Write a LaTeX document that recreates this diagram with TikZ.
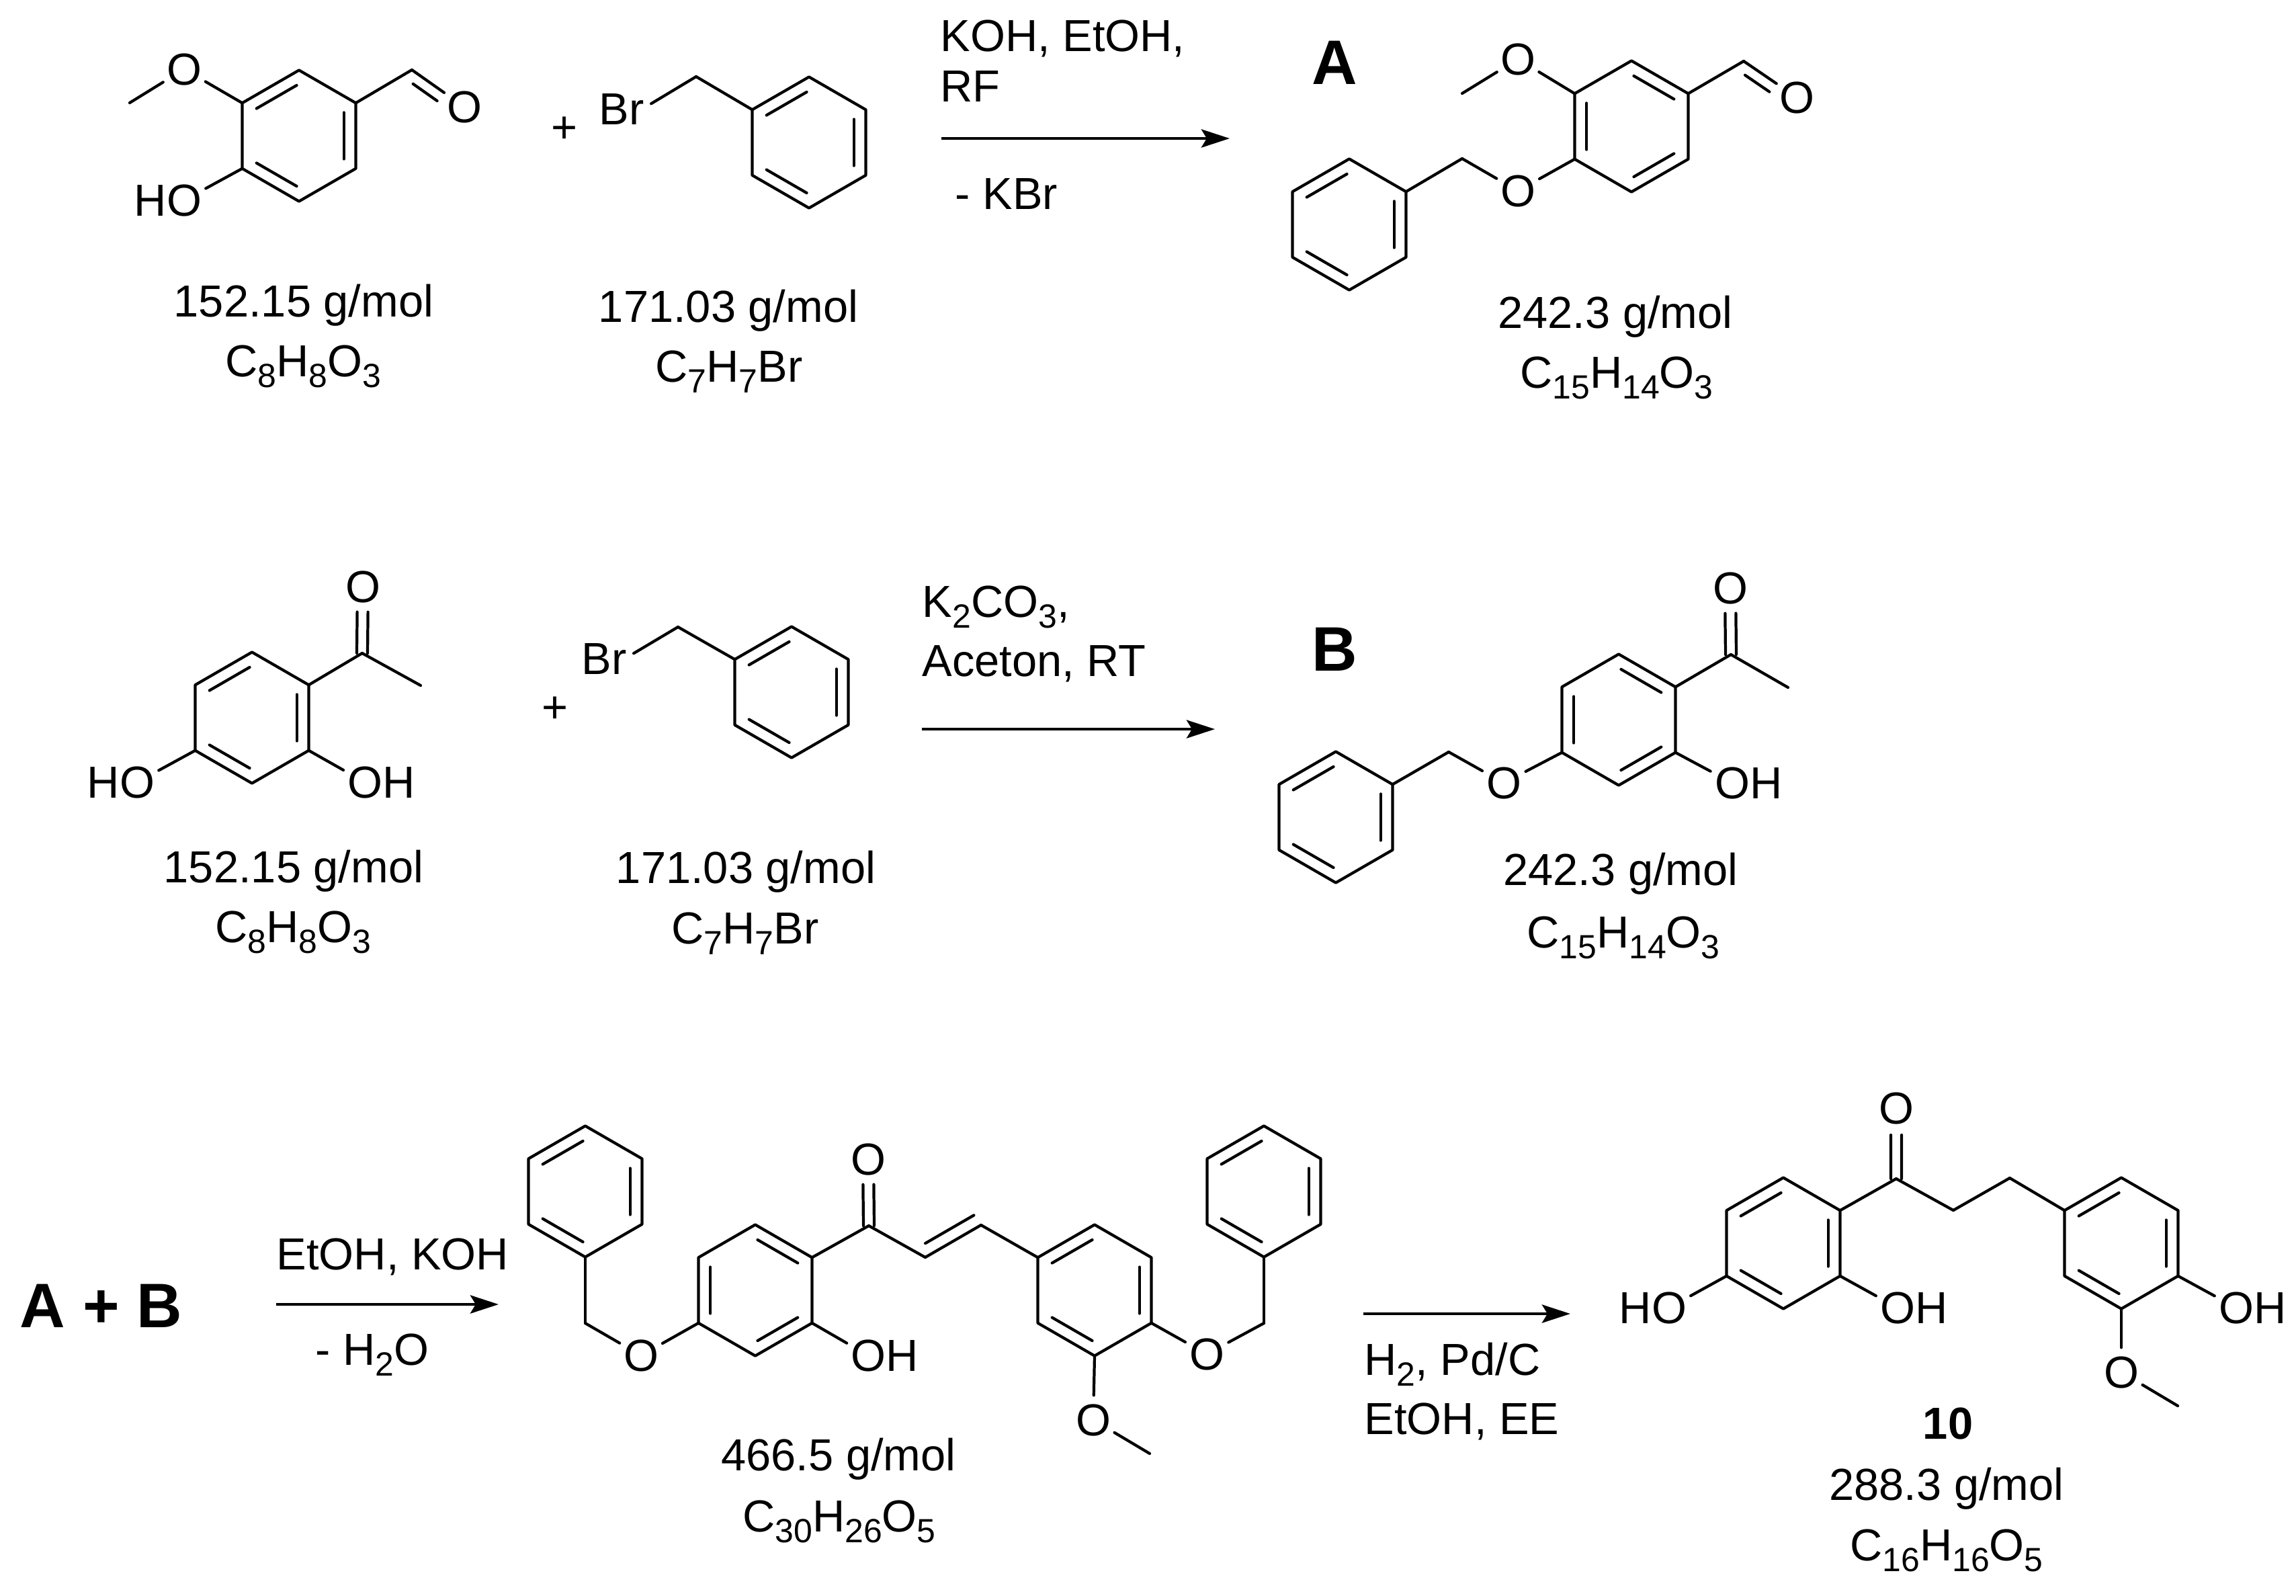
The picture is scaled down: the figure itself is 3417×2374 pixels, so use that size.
\documentclass[tikz,border=0pt]{standalone}
\usepackage{fontspec}
\setmainfont{Liberation Sans}
\usetikzlibrary{calc,arrows.meta}

\begin{document}
\begin{tikzpicture}[x=0.01cm,y=-0.01cm]

\def\rad{0.975cm}
\def\sbs#1{\raisebox{-.24em}{\fontsize{14.2}{15}\selectfont #1}}

\tikzset{bond/.style = {line width=1.2pt, line cap=round, line join=round}}
\tikzset{inbond/.style = {bond, shorten >=.04cm, shorten <=.04cm}}
\tikzset{atom/.style = {circle, inner sep=0pt, minimum size=.72cm, font=\fontsize{19}{22}\selectfont}}
\tikzset{txt/.style = {inner sep=0pt, anchor=base, font=\fontsize{19}{22}\selectfont}}
\tikzset{ltxt/.style = {txt, anchor=base west}}
\tikzset{halo/.style = {inner sep=.1cm, font=\fontsize{19}{22}\selectfont}}
\tikzset{bigtxt/.style = {inner sep=0pt, anchor=base, font=\fontsize{26.6}{30}\selectfont\bfseries}}
\tikzset{rxn/.style = {line width=1.4pt, -{Stealth[length=.42cm,width=.27cm,inset=.08cm]}}}

% name, centre, double bonds
\def\benzring#1#2#3{
  \coordinate (#1) at (#2);
  \foreach \i/\ang in {1/90,2/30,3/-30,4/-90,5/-150,6/150} {
    \coordinate (#1\i) at ($(#1)+(\ang:\rad)$);
  }
  \draw[bond] (#11) -- (#12) -- (#13) -- (#14) -- (#15) -- (#16) -- cycle;
  \foreach \p/\q in {#3} {
    \draw[inbond] ($(#1\p)!.21!(#1)$) -- ($(#1\q)!.21!(#1)$);
  }
}
% from, to, start, end, offset
\def\sidebond#1#2#3#4#5{
  \draw[bond] ($(#1)!#3!(#2)!#5!90:(#2)$) -- ($(#1)!#4!(#2)!#5!90:(#2)$);
}
\def\twobond#1#2{
  \sidebond{#1}{#2}{0}{.62}{.08cm}
  \sidebond{#1}{#2}{0}{.62}{-.08cm}
}

\useasboundingbox (0,0) rectangle (3417,2374);

% vanillin
\benzring{Ra}{445,202}{6/1,2/3,4/5}
\node[atom] (Oa1) at (274,103) {O};
\node[atom] (Oa2) at (274,298) {\llap{H}O};
\node[atom] (Oa3) at (691,159) {O};
\coordinate (Ma) at (193,153);
\coordinate (Ca) at (613,104);
\draw[bond] (Ra6) -- (Oa1);
\draw[bond] (Oa1) -- (Ma);
\draw[bond] (Ra5) -- (Oa2);
\draw[bond] (Ra2) -- (Ca);
\draw[bond] (Ca) -- (Oa3);
\sidebond{Ca}{Oa3}{.14}{.6}{-.16cm}
\node[txt] (Wa) at (452,471) {152.15 g/mol};
\node[txt] (Fa) at (451,560) {C\sbs{8}H\sbs{8}O\sbs{3}};

\node[txt] (Pa) at (840,212) {+};

% benzyl bromide
\benzring{Rb}{1204,212}{6/1,2/3,4/5}
\coordinate (Cb) at (1036,114);
\node[halo] (Bra) at (925,162) {Br};
\draw[bond] (Rb6) -- (Cb);
\draw[bond] (Cb) -- (Bra.10);
\node[txt] (Wb) at (1084,479) {171.03 g/mol};
\node[txt] (Fb) at (1085,568) {C\sbs{7}H\sbs{7}Br};

% reaction A
\node[ltxt] (Ta1) at (1399,76) {KOH, EtOH,};
\node[ltxt] (Ta2) at (1399,151) {RF};
\coordinate (Aa1) at (1401,206);
\coordinate (Aa2) at (1830,206);
\draw[rxn] (Aa1) -- (Aa2);
\node[ltxt] (Ta3) at (1421,311) {- KBr};
\node[bigtxt] (La) at (1986,125) {A};

% product A
\benzring{Rc}{2428,188}{1/2,3/4,5/6}
\benzring{Rd}{2008,334}{6/1,2/3,4/5}
\node[atom] (Oc1) at (2259,88) {O};
\node[atom] (Oc2) at (2259,284) {O};
\node[atom] (Oc3) at (2674,145) {O};
\coordinate (Mc) at (2176,139);
\coordinate (Cc) at (2595,91);
\coordinate (Bc) at (2176,236);
\draw[bond] (Rc6) -- (Oc1);
\draw[bond] (Oc1) -- (Mc);
\draw[bond] (Rc5) -- (Oc2);
\draw[bond] (Oc2) -- (Bc);
\draw[bond] (Bc) -- (Rd2);
\draw[bond] (Rc2) -- (Cc);
\draw[bond] (Cc) -- (Oc3);
\sidebond{Cc}{Oc3}{.14}{.6}{-.16cm}
\node[txt] (Wc) at (2404,488) {242.3 g/mol};
\node[txt] (Fc) at (2406,577) {C\sbs{15}H\sbs{14}O\sbs{3}};

% resacetophenone
\benzring{Re}{375,1068}{6/1,2/3,4/5}
\node[atom] (Oe1) at (204,1164) {\llap{H}O};
\node[atom] (Oe2) at (543,1164) {O\rlap{H}};
\node[atom] (Oe3) at (540,873) {O};
\coordinate (Ce) at (539,972);
\coordinate (Me) at (626,1020);
\draw[bond] (Re5) -- (Oe1);
\draw[bond] (Re3) -- (Oe2);
\draw[bond] (Re2) -- (Ce);
\draw[bond] (Ce) -- (Me);
\twobond{Ce}{Oe3}
\node[txt] (We) at (437,1313) {152.15 g/mol};
\node[txt] (Fe) at (436,1402) {C\sbs{8}H\sbs{8}O\sbs{3}};

\node[txt] (Pb) at (826,1075) {+};

% benzyl bromide again
\benzring{Rf}{1178,1030}{6/1,2/3,4/5}
\coordinate (Cf) at (1009,933);
\node[halo] (Brf) at (899,980) {Br};
\draw[bond] (Rf6) -- (Cf);
\draw[bond] (Cf) -- (Brf.10);
\node[txt] (Wf) at (1110,1314) {171.03 g/mol};
\node[txt] (Ff) at (1109,1404) {C\sbs{7}H\sbs{7}Br};

% reaction B
\node[ltxt] (Tb1) at (1372,918) {K\sbs{2}CO\sbs{3},};
\node[ltxt] (Tb2) at (1372,1006) {Aceton, RT};
\coordinate (Ab1) at (1372,1085);
\coordinate (Ab2) at (1808,1085);
\draw[rxn] (Ab1) -- (Ab2);
\node[bigtxt] (Lb) at (1986,998) {B};

% product B
\benzring{Rg}{2409,1071}{1/2,3/4,5/6}
\benzring{Rh}{1988,1216}{6/1,2/3,4/5}
\node[atom] (Og1) at (2238,1165) {O};
\node[atom] (Og2) at (2578,1165) {O\rlap{H}};
\node[atom] (Og3) at (2575,875) {O};
\coordinate (Cg) at (2576,974);
\coordinate (Mg) at (2661,1023);
\coordinate (Bg) at (2156,1119);
\draw[bond] (Rg5) -- (Og1);
\draw[bond] (Og1) -- (Bg);
\draw[bond] (Bg) -- (Rh2);
\draw[bond] (Rg3) -- (Og2);
\draw[bond] (Rg2) -- (Cg);
\draw[bond] (Cg) -- (Mg);
\twobond{Cg}{Og3}
\node[txt] (Wg) at (2412,1317) {242.3 g/mol};
\node[txt] (Fg) at (2416,1410) {C\sbs{15}H\sbs{14}O\sbs{3}};

% A + B
\node[bigtxt, anchor=base west] (Lc) at (29,1975) {A + B};
\node[ltxt] (Tc1) at (411,1889) {EtOH, KOH};
\coordinate (Ac1) at (411,1941);
\coordinate (Ac2) at (742,1941);
\draw[rxn] (Ac1) -- (Ac2);
\node[ltxt] (Tc2) at (469,2031) {- H\sbs{2}O};

% chalcone
\benzring{Ri}{871,1773}{6/1,2/3,4/5}
\benzring{Rj}{1124,1920}{1/2,3/4,5/6}
\benzring{Rk}{1629,1920}{6/1,2/3,4/5}
\benzring{Rl}{1881,1773}{6/1,2/3,4/5}
\coordinate (Bi) at (871,1969);
\node[atom] (Oi) at (954,2017) {O};
\node[atom] (Oj1) at (1292,2017) {O\rlap{H}};
\node[atom] (Oj2) at (1292,1725) {O};
\coordinate (Cj) at (1293,1824);
\coordinate (Cj1) at (1377,1871);
\coordinate (Cj2) at (1460,1823);
\node[atom] (Ok1) at (1627,2113) {O};
\coordinate (Mk) at (1711,2163);
\node[atom] (Ok2) at (1796,2015) {O};
\coordinate (Bl) at (1881,1969);
\draw[bond] (Ri4) -- (Bi);
\draw[bond] (Bi) -- (Oi);
\draw[bond] (Oi) -- (Rj5);
\draw[bond] (Rj3) -- (Oj1);
\draw[bond] (Rj2) -- (Cj);
\twobond{Cj}{Oj2}
\draw[bond] (Cj) -- (Cj1);
\draw[bond] (Cj1) -- (Cj2);
\sidebond{Cj1}{Cj2}{.11}{.98}{.18cm}
\draw[bond] (Cj2) -- (Rk6);
\draw[bond] (Rk4) -- (Ok1);
\draw[bond] (Ok1) -- (Mk);
\draw[bond] (Rk3) -- (Ok2);
\draw[bond] (Ok2) -- (Bl);
\draw[bond] (Bl) -- (Rl4);
\node[txt] (Wj) at (1248,2188) {466.5 g/mol};
\node[txt] (Fj) at (1249,2279) {C\sbs{30}H\sbs{26}O\sbs{5}};

% reduction
\coordinate (Ad1) at (2029,1955);
\coordinate (Ad2) at (2337,1955);
\draw[rxn] (Ad1) -- (Ad2);
\node[ltxt] (Td1) at (2030,2046) {H\sbs{2}, Pd/C};
\node[ltxt] (Td2) at (2030,2134) {EtOH, EE};

% compound 10
\benzring{Rm}{2654,1850}{6/1,2/3,4/5}
\benzring{Rn}{3157,1850}{6/1,2/3,4/5}
\node[atom] (Om1) at (2484,1946) {\llap{H}O};
\node[atom] (Om2) at (2824,1946) {O\rlap{H}};
\node[atom] (Om3) at (2822,1649) {O};
\coordinate (Cm) at (2822,1754);
\coordinate (Cm1) at (2907,1801);
\coordinate (Cm2) at (2991,1753);
\node[atom] (On1) at (3328,1946) {O\rlap{H}};
\node[atom] (On2) at (3157,2042) {O};
\coordinate (Mn) at (3241,2092);
\draw[bond] (Rm5) -- (Om1);
\draw[bond] (Rm3) -- (Om2);
\draw[bond] (Rm2) -- (Cm);
\twobond{Cm}{Om3}
\draw[bond] (Cm) -- (Cm1);
\draw[bond] (Cm1) -- (Cm2);
\draw[bond] (Cm2) -- (Rn6);
\draw[bond] (Rn3) -- (On1);
\draw[bond] (Rn4) -- (On2);
\draw[bond] (On2) -- (Mn);
\node[txt, font=\fontsize{19}{22}\selectfont\bfseries] (Ln) at (2899,2141) {10};
\node[txt] (Wn) at (2897,2232) {288.3 g/mol};
\node[txt] (Fn) at (2897,2322) {C\sbs{16}H\sbs{16}O\sbs{5}};

\end{tikzpicture}
\end{document}
